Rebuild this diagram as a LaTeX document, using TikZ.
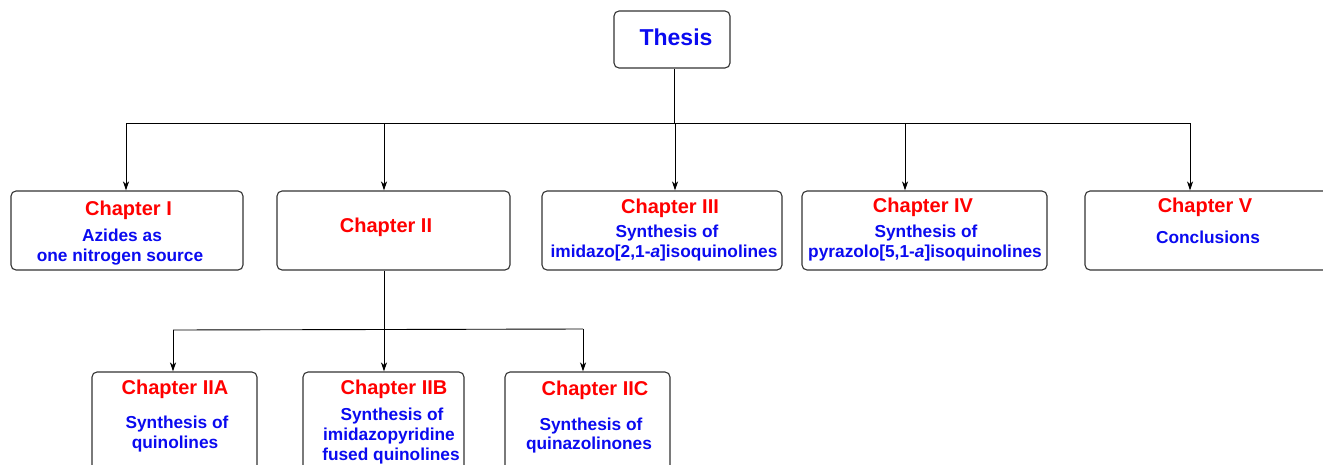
\documentclass[tikz,border=0pt]{standalone}
\usepackage{fontspec}
\setmainfont{Liberation Sans}
\usetikzlibrary{arrows.meta}
\definecolor{hdred}{RGB}{255,0,0}
\definecolor{txblue}{RGB}{10,10,240}
\tikzset{
  box/.style={draw=black!80, line width=1.1pt, rounded corners=5pt, inner sep=0pt, fill=white},
  ttl/.style={anchor=base, inner sep=0pt, text=hdred, font=\bfseries\fontsize{20}{24}\selectfont},
  sub/.style={anchor=base, inner sep=0pt, text=txblue, font=\bfseries\fontsize{17.3}{20}\selectfont},
  link/.style={draw=black, line width=0.9pt},
  arr/.style={link, -{Stealth[length=9pt,width=6pt,inset=2.5pt]}}
}
\begin{document}
\begin{tikzpicture}[x=1pt,y=-1pt]
\useasboundingbox (0,0) rectangle (1323,464);
\clip (0,0) rectangle (1323,464);

% root
\node[box, minimum width=116pt, minimum height=57pt] (thesis) at (672,39.5) {};
\node[anchor=base, inner sep=0pt, text=txblue, font=\bfseries\fontsize{23}{27}\selectfont] (thesisT) at (676,45) {Thesis};

% chapter boxes
\node[box, minimum width=232pt, minimum height=79pt] (c1) at (127,230.5) {};
\node[box, minimum width=233pt, minimum height=79pt] (c2) at (393.5,230.5) {};
\node[box, minimum width=240pt, minimum height=79pt] (c3) at (662,230.5) {};
\node[box, minimum width=245pt, minimum height=79pt] (c4) at (924.5,230.5) {};
\node[box, minimum width=250pt, minimum height=79pt] (c5) at (1210,230.5) {};

% sub-chapter boxes
\node[box, minimum width=165pt, minimum height=100pt] (c2a) at (174.5,422) {};
\node[box, minimum width=161pt, minimum height=100pt] (c2b) at (383.5,422) {};
\node[box, minimum width=165pt, minimum height=100pt] (c2c) at (587.5,422) {};

% texts
\node[ttl] (c1t) at (128.5,215) {Chapter I};
\node[sub] (c1s1) at (122,241) {Azides as};
\node[sub] (c1s2) at (120,261) {one nitrogen source};

\node[ttl] (c2t) at (386,232) {Chapter II};

\node[ttl] (c3t) at (670,213) {Chapter III};
\node[sub] (c3s1) at (667,237) {Synthesis of};
\node[sub] (c3s2) at (664,257) {imidazo[2,1-\textit{a}]isoquinolines};

\node[ttl] (c4t) at (923,212) {Chapter IV};
\node[sub] (c4s1) at (926,237) {Synthesis of};
\node[sub] (c4s2) at (925,257) {pyrazolo[5,1-\textit{a}]isoquinolines};

\node[ttl] (c5t) at (1205,212) {Chapter V};
\node[sub] (c5s1) at (1208,243) {Conclusions};

\node[ttl] (c2at) at (175,394) {Chapter IIA};
\node[sub] (c2as1) at (177,428) {Synthesis of};
\node[sub] (c2as2) at (175,448) {quinolines};

\node[ttl] (c2bt) at (394,394) {Chapter IIB};
\node[sub] (c2bs1) at (392,420) {Synthesis of};
\node[sub] (c2bs2) at (389,440) {imidazopyridine};
\node[sub] (c2bs3) at (391,460) {fused quinolines};

\node[ttl] (c2ct) at (595,395) {Chapter IIC};
\node[sub] (c2cs1) at (591,430) {Synthesis of};
\node[sub] (c2cs2) at (589,449) {quinazolinones};

% upper bus
\coordinate (j) at (674,123);
\coordinate (b1) at (126,123);
\coordinate (b2) at (384,123);
\coordinate (b3) at (675,123);
\coordinate (b4) at (905,123);
\coordinate (b5) at (1190,123);
\draw[link] (thesis.south -| j) -- (j);
\draw[link] (b1) -- (b5);
\draw[arr] (b1) -- (b1 |- c1.north);
\draw[arr] (b2) -- (b2 |- c2.north);
\draw[arr] (b3) -- (b3 |- c3.north);
\draw[arr] (b4) -- (b4 |- c4.north);
\draw[arr] (b5) -- (b5 |- c5.north);

% lower bus
\coordinate (k) at (384,329.5);
\coordinate (d1) at (173,330);
\coordinate (d3) at (583,329);
\draw[link] (c2.south -| k) -- (k);
\draw[link] (d1) -- (k) -- (d3);
\draw[arr] (d1) -- (d1 |- c2a.north);
\draw[arr] (k) -- (k |- c2b.north);
\draw[arr] (d3) -- (d3 |- c2c.north);
\end{tikzpicture}
\end{document}
